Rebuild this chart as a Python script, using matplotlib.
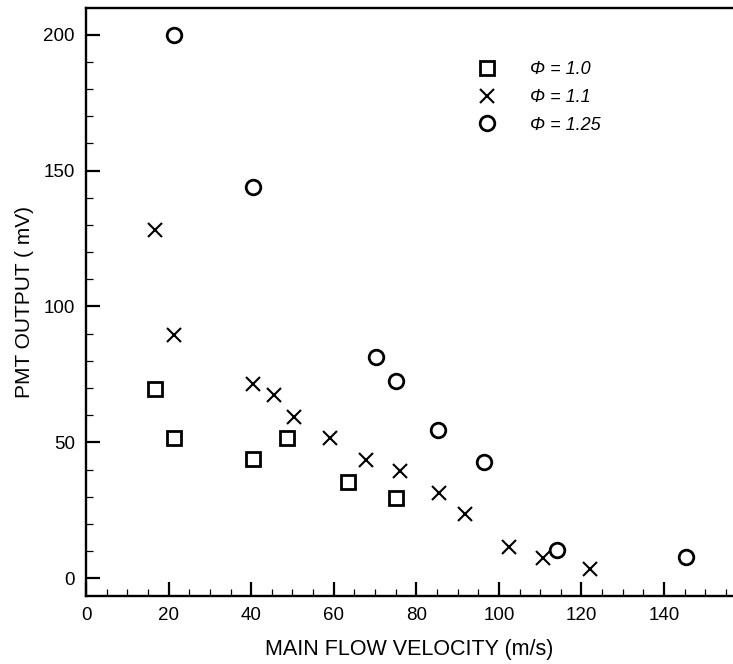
import matplotlib
matplotlib.use('Agg')
import matplotlib.pyplot as plt
from matplotlib.ticker import MultipleLocator

# data
x_10 = [16.8, 21.2, 40.4, 48.7, 63.4, 75.1]
y_10 = [69.5, 51.5, 44.0, 51.5, 35.5, 29.5]

x_11 = [16.8, 21.2, 40.4, 45.6, 50.4, 59.1, 67.9, 76.1, 85.5, 91.9, 102.5, 110.7, 122.0]
y_11 = [128, 89.5, 71.5, 67.4, 59.5, 51.5, 43.5, 39.5, 31.5, 23.5, 11.5, 7.5, 3.5]

x_125 = [21.2, 40.4, 70.2, 75.1, 85.3, 96.4, 114.0, 145.4]
y_125 = [200, 144, 81.5, 72.5, 54.5, 42.7, 10.5, 7.8]

labels = ['Φ = 1.0', 'Φ = 1.1', 'Φ = 1.25']

plt.rcParams['font.family'] = ['Liberation Sans', 'DejaVu Sans']

fig = plt.figure(figsize=(7.33, 6.64), dpi=100)
ax = fig.add_axes([86 / 733, 1 - 596 / 664, (733 - 86) / 733, (596 - 8) / 664])

ax.plot(x_10, y_10, 's', ms=10, mfc='white', mec='black', mew=2.0, label=labels[0])
ax.plot(x_11, y_11, 'x', ms=10.5, mec='black', mew=1.5, label=labels[1])
ax.plot(x_125, y_125, 'o', ms=10.5, mfc='white', mec='black', mew=2.0, label=labels[2])

ax.set_xlim(0, 156.7)
ax.set_ylim(-6.5, 209.8)
ax.spines['right'].set_visible(False)
for s in ['left', 'bottom', 'top']:
    ax.spines[s].set_linewidth(1.7)

ax.xaxis.set_major_locator(MultipleLocator(20))
ax.xaxis.set_minor_locator(MultipleLocator(5))
ax.yaxis.set_major_locator(MultipleLocator(50))
ax.yaxis.set_minor_locator(MultipleLocator(10))
ax.tick_params(which='major', direction='in', length=10, width=1.6, labelsize=13.5, pad=8)
ax.tick_params(which='minor', direction='in', length=5, width=0.9)
ax.tick_params(top=False, right=False, which='both')
ax.set_xticks(range(0, 141, 20))

ax.set_xlabel('MAIN FLOW VELOCITY (m/s)', fontsize=15.5, labelpad=11)
ax.set_ylabel('PMT OUTPUT ( mV)', fontsize=15, labelpad=7)

leg = ax.legend(loc='upper left', bbox_to_anchor=(460 / 733, 1 - 52 / 664),
                bbox_transform=fig.transFigure, frameon=False,
                prop={'style': 'italic', 'size': 13}, handletextpad=1.35,
                labelspacing=0.6, borderpad=0)

fig.savefig('out.png', dpi=100)
